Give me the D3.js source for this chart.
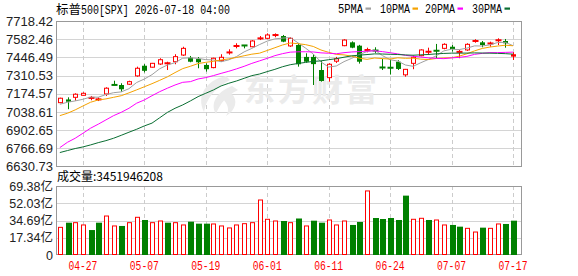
<!DOCTYPE html>
<html><head><meta charset="utf-8">
<script src="https://cdn.jsdelivr.net/npm/d3@7"></script>
<style>body{margin:0;background:#fff}svg{display:block}</style>
</head><body>
<script>
// ---------- data ----------
const dates = ["04-22","04-23","04-24","04-27","04-28","04-29","04-30","05-01","05-04","05-05",
"05-06","05-07","05-08","05-11","05-12","05-13","05-14","05-15","05-18","05-19",
"05-20","05-21","05-22","05-26","05-27","05-28","05-29","06-01","06-02","06-03",
"06-04","06-05","06-08","06-09","06-10","06-11","06-12","06-15","06-16","06-17",
"06-18","06-22","06-23","06-24","06-25","06-26","06-29","06-30","07-01","07-02",
"07-06","07-07","07-08","07-09","07-10","07-13","07-14","07-15","07-16","07-17"];
const opens = [7108,7132,7148,7163,7142,7131,7173,7242,7240,7246,
7308,7384,7373,7397,7400,7414,7464,7444,7434,7390,
7370,7422,7482,7530,7537,7526,7587,7589,7611,7606,
7532,7539,7450,7450,7352,7295,7418,7534,7559,7534,
7500,7500,7373,7372,7414,7316,7402,7459,7487,7500,
7514,7526,7486,7502,7562,7559,7549,7573,7569,7470];
const highs = [7145,7148,7178,7185,7158,7147,7223,7272,7253,7272,
7377,7396,7405,7440,7414,7470,7526,7457,7449,7402,
7444,7470,7507,7552,7538,7575,7606,7626,7626,7614,
7598,7552,7477,7470,7420,7402,7450,7582,7566,7540,
7519,7522,7435,7430,7425,7360,7460,7507,7519,7547,
7552,7539,7502,7552,7582,7569,7564,7589,7584,7485];
const lows = [7104,7059,7123,7160,7126,7120,7158,7239,7190,7240,
7302,7334,7370,7390,7352,7395,7457,7410,7365,7340,
7365,7414,7467,7514,7514,7522,7576,7582,7597,7560,
7525,7377,7407,7240,7265,7265,7405,7530,7515,7400,
7484,7480,7352,7318,7352,7302,7358,7455,7464,7440,
7507,7490,7440,7495,7556,7522,7526,7539,7519,7427];
const closes = [7141,7115,7171,7178,7145,7134,7216,7239,7208,7265,
7365,7346,7402,7429,7405,7452,7514,7414,7410,7358,
7440,7447,7485,7533,7534,7569,7590,7614,7616,7564,
7589,7395,7414,7396,7270,7395,7436,7576,7519,7414,
7503,7495,7369,7366,7360,7357,7447,7502,7490,7492,
7544,7509,7489,7544,7576,7539,7552,7576,7552,7452];
const prevClose = 7100;
// volume in 亿
const volumes = [27.8,32.5,32.5,30.2,25.1,32.5,39.2,29.2,29.2,32.5,
37.9,35.2,32.5,34.2,32.5,32.5,30.2,33.5,31.5,31.5,
31.2,29.2,27.2,30.2,31.5,32.5,55.3,35.9,34.2,34.2,
32.5,36.7,29.2,34.5,32.5,35.2,30.2,34.2,30.2,33.2,
64.4,37.2,36.2,37.2,35.2,59.7,35.9,36.9,35.2,35.2,
30.2,30.2,28.5,26.8,23.1,27.5,26.8,31.2,31.2,34.52];
// moving-average values before each window is complete
const ma5Head = [7096,7111,7121,7133];
const ma10Head = [7011,7029,7054,7083,7111,7128,7136,7148,7160];
const ma20Head = [6772,6812,6842,6879,6917,6947,6979,7011,7036,7066,7104,7128,7160,7190,7216,7240,7260,7265,7285];
const ma30Head = [6735,6750,6765,6777,6792,6809,6824,6842,6864,6887,6909,6934,6955,6995,7035,7066,7091,7121,7153,7178,7203,7233,7253,7270,7290,7310,7322,7340,7357];
const priceTicks = [6630.73,6766.69,6902.65,7038.61,7174.57,7310.53,7446.49,7582.46,7718.42];
const volTicks = [0,17.34,34.69,52.03,69.38];
const xLabelDates = ["04-27","05-07","05-19","06-01","06-11","06-24","07-07","07-17"];
const titleName = "标普";
const titleRest = "500[SPX] 2026-07-18 04:00";
const volumeTitle = "成交量:3451946208";
const legendNames = ["5PMA","10PMA","20PMA","30PMA"];
const watermark = "东方财富";

// ---------- chart ----------
const RED = "#ff0000", GREEN = "#008000";
const maColors = ["#a0a0a0","#f5a200","#ff00ff","#0a6e32"];
const W = 578, H = 276;
const L = 56, R = 522;
const svg = d3.select("body").append("svg").attr("width", W).attr("height", H)
  .style("font-family", "'Liberation Sans', Arial, sans-serif");

const n = closes.length;
const x = d3.scaleBand().domain(d3.range(n)).range([L, L + n * 7.68]).padding(0);
const cx = i => x(i) + x.bandwidth() / 2;
const yP = d3.scaleLinear().domain([priceTicks[0], priceTicks[priceTicks.length - 1]]).range([166.5, 21]);
const yV = d3.scaleLinear().domain([0, volTicks[volTicks.length - 1]]).range([255, 186]);

const labelIdx = xLabelDates.map(d => dates.indexOf(d));

// grids
const grid = svg.append("g");
grid.selectAll(".hp").data(priceTicks.slice(1, -1)).join("line")
  .attr("x1", L).attr("x2", R).attr("y1", d => Math.round(yP(d)) + 0.5).attr("y2", d => Math.round(yP(d)) + 0.5)
  .attr("stroke", "#d4d4d4");
grid.selectAll(".hv").data(volTicks.slice(1, -1)).join("line")
  .attr("x1", L).attr("x2", R).attr("y1", d => Math.round(yV(d)) + 0.5).attr("y2", d => Math.round(yV(d)) + 0.5)
  .attr("stroke", "#d4d4d4");
[[21, 166.5], [186, 255]].forEach(([t, b]) => {
  grid.selectAll(null).data(labelIdx).join("line")
    .attr("x1", i => Math.round(cx(i)) + 0.5).attr("x2", i => Math.round(cx(i)) + 0.5)
    .attr("y1", t).attr("y2", b)
    .attr("stroke", "#cccccc").attr("stroke-dasharray", "4,3");
});

// watermark
const wm = svg.append("g").attr("fill", "#ebebeb");
wm.append("path").attr("d", "M226,76 C206,80 196,96 204,112 C206,100 214,88 230,80 Z M232,86 C216,92 210,104 216,114 C220,104 226,96 238,90 Z M222,98 C228,104 230,110 226,116 C236,110 238,100 232,94 Z");
wm.append("text").attr("x", 244).attr("y", 101).attr("font-size", 31).attr("font-weight", "bold")
  .attr("font-family", "'Noto Sans CJK SC', sans-serif").attr("letter-spacing", 3).text(watermark);

// borders
svg.append("rect").attr("x", L + 0.5).attr("y", 21.5).attr("width", R - L - 1).attr("height", 145)
  .attr("fill", "none").attr("stroke", "#999");
svg.append("rect").attr("x", L + 0.5).attr("y", 186.5).attr("width", R - L - 1).attr("height", 68)
  .attr("fill", "none").attr("stroke", "#999");

// candles
const cg = svg.append("g");
closes.forEach((c, i) => {
  const o = opens[i], c0 = Math.round(cx(i));
  const up = c >= o;
  const last = i === n - 1;
  const col = (up || last) ? RED : GREEN;
  cg.append("line").attr("x1", c0 + 0.5).attr("x2", c0 + 0.5)
    .attr("y1", yP(highs[i])).attr("y2", yP(lows[i])).attr("stroke", col);
  const yt = yP(Math.max(o, c)), yb = yP(Math.min(o, c));
  const h = yb - yt;
  if (h < 2) {
    cg.append("rect").attr("x", c0 - 2.5).attr("y", (yt + yb) / 2 - 1).attr("width", 6).attr("height", 2).attr("fill", col);
  } else if (up && !last) {
    cg.append("rect").attr("x", c0 - 1.5).attr("y", yt).attr("width", 4).attr("height", h)
      .attr("fill", "#fff").attr("stroke", col);
  } else {
    cg.append("rect").attr("x", c0 - 2).attr("y", yt).attr("width", 5).attr("height", h).attr("fill", col);
  }
});

// moving averages
function ma(p, head) {
  return closes.map((c, i) => i < p - 1 ? head[i] : d3.mean(closes.slice(i - p + 1, i + 1)));
}
const mas = [ma(5, ma5Head), ma(10, ma10Head), ma(20, ma20Head), ma(30, ma30Head)];
const line = d3.line().x((d, i) => cx(i)).y(d => yP(d));
mas.forEach((m, k) => {
  svg.append("path").attr("d", line(m)).attr("fill", "none").attr("stroke", maColors[k]).attr("stroke-width", 1);
});

// volume bars
const vg = svg.append("g");
volumes.forEach((v, i) => {
  const pc = i === 0 ? prevClose : closes[i - 1];
  const up = closes[i] >= pc;
  const c0 = Math.round(cx(i));
  if (up) {
    vg.append("rect").attr("x", c0 - 1.5).attr("y", yV(v)).attr("width", 4).attr("height", yV(0) - yV(v) - 0.5)
      .attr("fill", "#fff").attr("stroke", RED);
  } else {
    vg.append("rect").attr("x", c0 - 2).attr("y", yV(v)).attr("width", 6).attr("height", yV(0) - yV(v)).attr("fill", GREEN);
  }
});

// axes
const ya = svg.append("g").attr("transform", `translate(${L},0)`)
  .call(d3.axisLeft(yP).tickValues(priceTicks).tickFormat(d3.format(".2f")).tickSize(0).tickPadding(3));
ya.select(".domain").remove();
ya.selectAll("text").attr("font-size", 13).attr("fill", "#222").attr("font-family", "'Liberation Sans', Arial, sans-serif");

const va = svg.append("g").attr("transform", `translate(${L},0)`)
  .call(d3.axisLeft(yV).tickValues(volTicks).tickFormat(v => v === 0 ? "0" : v.toFixed(2) + "亿").tickSize(0).tickPadding(3));
va.select(".domain").remove();
va.selectAll("text").attr("font-size", 12.5).attr("fill", "#222").attr("font-family", "'Liberation Sans', 'Noto Sans CJK SC', sans-serif");

const xa = svg.append("g").attr("transform", "translate(0,255)")
  .call(d3.axisBottom(x).tickValues(labelIdx).tickFormat(i => dates[i]).tickSize(0).tickPadding(6));
xa.select(".domain").remove();
xa.selectAll("text").attr("font-size", 12).attr("fill", RED)
  .attr("font-family", "'Liberation Mono', monospace")
  .attr("textLength", 29).attr("lengthAdjust", "spacingAndGlyphs");

// title
svg.append("text").attr("x", 56).attr("y", 14).attr("font-size", 12.5)
  .attr("font-family", "'Noto Sans CJK SC', sans-serif").attr("fill", "#000").text(titleName);
svg.append("text").attr("x", 81).attr("y", 13.5).attr("font-size", 12)
  .attr("font-family", "'Liberation Mono', monospace").attr("fill", "#000")
  .attr("textLength", 149).attr("lengthAdjust", "spacingAndGlyphs").text(titleRest);

// volume title
svg.append("text").attr("x", 57).attr("y", 181).attr("font-size", 12)
  .attr("font-family", "'Noto Sans CJK SC', sans-serif").attr("fill", "#000").text(volumeTitle);

// legend
const legX = [338, 380, 425, 472];
const legW = [25, 30, 30, 30];
legendNames.forEach((name, k) => {
  svg.append("text").attr("x", legX[k]).attr("y", 12.5).attr("font-size", 12)
    .attr("font-family", "'Liberation Mono', monospace").attr("fill", "#000")
    .attr("textLength", legW[k]).attr("lengthAdjust", "spacingAndGlyphs").text(name);
  svg.append("rect").attr("x", legX[k] + legW[k] + 2.5).attr("y", 7.5).attr("width", 5.5).attr("height", 2.2)
    .attr("fill", maColors[k]);
});
</script>
</body></html>
